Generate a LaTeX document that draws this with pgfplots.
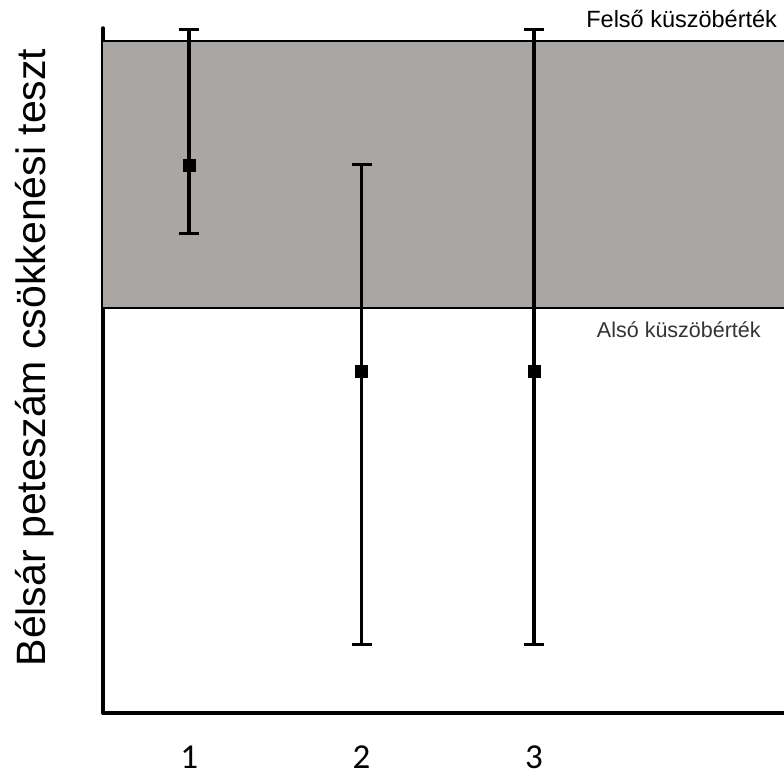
\documentclass[border=0pt]{standalone}
\usepackage{pgfplots}
\pgfplotsset{compat=1.18}
\usepackage{fontspec}
\setmainfont{Liberation Sans}
\newfontfamily\tickfont{Carlito}
\definecolor{band}{RGB}{170,166,164}
\begin{document}
\begin{tikzpicture}[x=1pt,y=1pt]
\path[use as bounding box] (-103,-65) rectangle (681,713);
\begin{axis}[
  scale only axis, width=681pt, height=685pt,
  at={(0,0)}, anchor=south west,
  xmin=0.5, xmax=4.45, ymin=0, ymax=685,
  axis x line=bottom, axis y line=left,
  axis line style={-, line width=3.5pt, line cap=round},
  xtick={1,2,3}, xticklabels={1,2,3},
  ytick=\empty,
  major tick length=0pt,
  xticklabel style={font=\tickfont\fontsize{35}{35}\selectfont, inner sep=0pt, text depth=0pt, yshift=-33pt},
  ylabel={Bélsár peteszám csökkenési teszt},
  ylabel style={font=\fontsize{41}{41}\selectfont, at={(axis description cs:-0.0999,0.519)}, anchor=center},
  clip=false,
]
\addplot[fill=band, draw=none] coordinates {(0.5,405) (4.45,405) (4.45,672) (0.5,672)} -- cycle;
\addplot[black, line width=2pt] coordinates {(0.5,672) (4.45,672)};
\addplot[black, line width=1.3pt] coordinates {(0.5,405) (4.45,405)};
\addplot[only marks, mark=square*, mark size=6pt, black,
  error bars/.cd, y dir=both, y explicit,
  error mark=-, error bar style={line width=3.5pt},
  error mark options={line width=3pt, mark size=10pt, rotate=90}]
  coordinates {
    (1,548) += (0,135) -= (0,69)
    (2,342) += (0,206) -= (0,274)
    (3,342) += (0,341) -= (0,274)
  };
\node[anchor=base east, font=\fontsize{23.5}{23.5}\selectfont] at (axis cs:4.43,685) {Felső küszöbérték};
\node[anchor=center, font=\fontsize{21.5}{21.5}\selectfont, text=black!80] at (axis cs:3.84,383) {Alsó küszöbérték};
\end{axis}
\end{tikzpicture}
\end{document}
